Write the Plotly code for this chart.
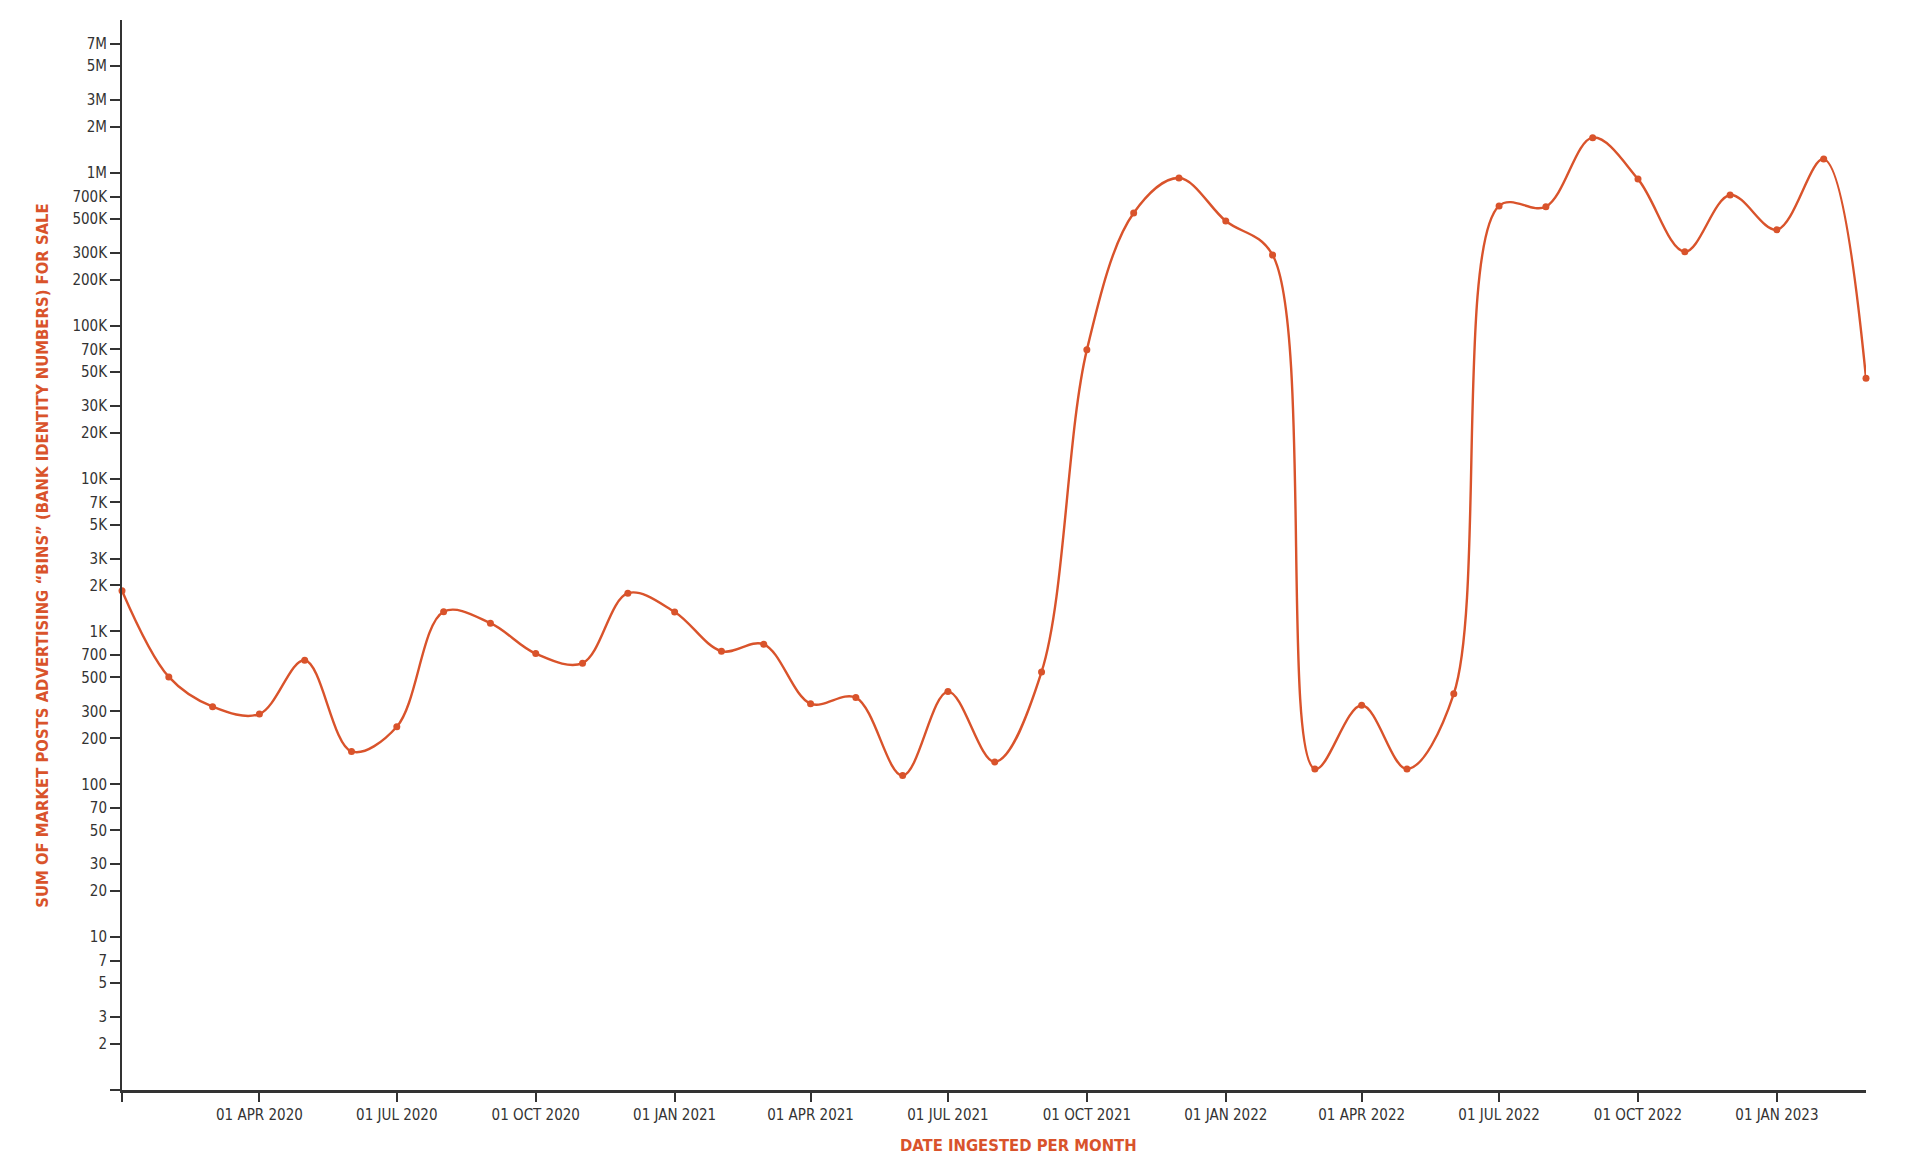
import plotly.graph_objects as go

months = [
    "2020-01-01", "2020-02-01", "2020-03-01", "2020-04-01", "2020-05-01", "2020-06-01",
    "2020-07-01", "2020-08-01", "2020-09-01", "2020-10-01", "2020-11-01", "2020-12-01",
    "2021-01-01", "2021-02-01", "2021-03-01", "2021-04-01", "2021-05-01", "2021-06-01",
    "2021-07-01", "2021-08-01", "2021-09-01", "2021-10-01", "2021-11-01", "2021-12-01",
    "2022-01-01", "2022-02-01", "2022-03-01", "2022-04-01", "2022-05-01", "2022-06-01",
    "2022-07-01", "2022-08-01", "2022-09-01", "2022-10-01", "2022-11-01", "2022-12-01",
    "2023-01-01", "2023-02-01", "2023-03-01",
]
posts = [
    1849, 504, 322, 288, 648, 164,
    238, 1346, 1132, 716, 620, 1778,
    1341, 743, 824, 337, 369, 114,
    404, 140, 543, 69500, 546000, 925000,
    484000, 290000, 126, 329, 126, 391,
    608000, 601000, 1700000, 910000, 305000, 716000,
    425000, 1230000, 45400,
]

y_tickvals = [1, 2, 3, 5, 7, 10, 20, 30, 50, 70, 100, 200, 300, 500, 700,
              1e3, 2e3, 3e3, 5e3, 7e3, 1e4, 2e4, 3e4, 5e4, 7e4,
              1e5, 2e5, 3e5, 5e5, 7e5, 1e6, 2e6, 3e6, 5e6, 7e6]
y_ticktext = ["", "2", "3", "5", "7", "10", "20", "30", "50", "70", "100", "200", "300", "500", "700",
              "1K", "2K", "3K", "5K", "7K", "10K", "20K", "30K", "50K", "70K",
              "100K", "200K", "300K", "500K", "700K", "1M", "2M", "3M", "5M", "7M"]
x_tickvals = ["2020-01-01", "2020-04-01", "2020-07-01", "2020-10-01", "2021-01-01",
              "2021-04-01", "2021-07-01", "2021-10-01", "2022-01-01", "2022-04-01",
              "2022-07-01", "2022-10-01", "2023-01-01"]
x_ticktext = ["", "01 APR 2020", "01 JUL 2020", "01 OCT 2020", "01 JAN 2021",
              "01 APR 2021", "01 JUL 2021", "01 OCT 2021", "01 JAN 2022", "01 APR 2022",
              "01 JUL 2022", "01 OCT 2022", "01 JAN 2023"]

ORANGE = "#d9532b"
DARK = "#333333"
FONT = "Liberation Sans Narrow, DejaVu Sans Condensed, DejaVu Sans, sans-serif"

fig = go.Figure()
fig.add_trace(go.Scatter(
    x=months, y=posts, mode="lines+markers",
    line=dict(color=ORANGE, width=2.4, shape="spline", smoothing=1.0),
    marker=dict(color=ORANGE, size=7),
    cliponaxis=False, hoverinfo="x+y", showlegend=False,
))

fig.update_layout(
    width=1920, height=1166,
    margin=dict(l=122, r=54, t=20, b=76),
    paper_bgcolor="white", plot_bgcolor="white",
    font=dict(family=FONT, color=DARK, size=15),
    xaxis=dict(
        type="date", range=["2020-01-01", "2023-03-01"],
        tickvals=x_tickvals, ticktext=x_ticktext,
        ticks="outside", ticklen=9, tickwidth=1.5, tickcolor=DARK,
        showline=True, linecolor=DARK, linewidth=2.5,
        showgrid=False, zeroline=False,
        tickfont=dict(family=FONT, size=15, color=DARK),
    ),
    yaxis=dict(
        type="log", range=[0, 7],
        tickvals=y_tickvals, ticktext=y_ticktext,
        ticks="outside", ticklen=10, tickwidth=1.5, tickcolor=DARK,
        showline=True, linecolor=DARK, linewidth=2,
        showgrid=False, zeroline=False,
        tickfont=dict(family=FONT, size=15, color=DARK),
    ),
    annotations=[
        dict(text="<b>DATE INGESTED PER MONTH</b>", xref="paper", yref="paper",
             x=(1018 - 122) / (1866 - 122), y=-0.052, xanchor="center", yanchor="middle",
             showarrow=False, font=dict(family=FONT, size=16.5, color=ORANGE)),
        dict(text="<b>SUM OF MARKET POSTS ADVERTISING “BINS” (BANK IDENTITY NUMBERS) FOR SALE</b>",
             xref="paper", yref="paper", x=-0.046, y=0.5, textangle=-90,
             xanchor="center", yanchor="middle", showarrow=False,
             font=dict(family=FONT, size=16.5, color=ORANGE)),
    ],
)

fig.write_html("out.html", config={"displayModeBar": False},
               post_script="document.body.style.margin='0';")
